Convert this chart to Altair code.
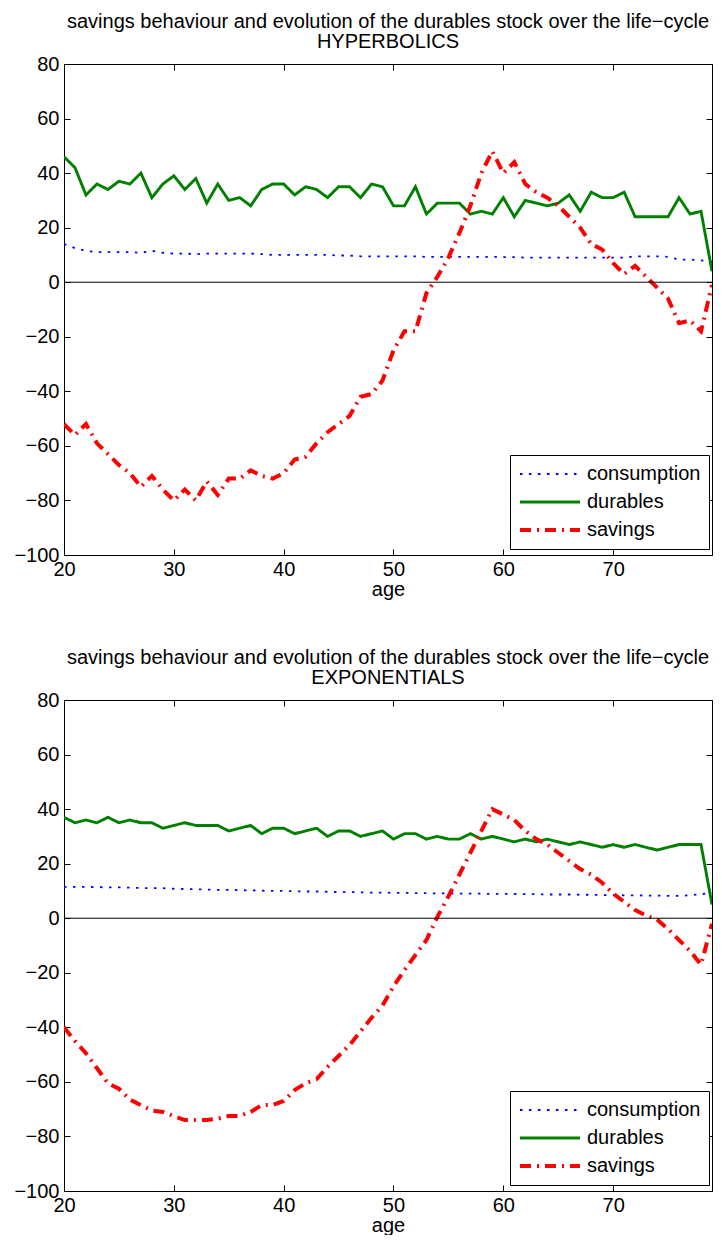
import altair as alt
import pandas as pd

ages = list(range(20, 80))
series_names = ["consumption", "durables", "savings"]

hyp_consumption = [14, 12.5, 11.5, 11, 11, 11, 11, 10.8, 11.5, 10.8,
                   10.5, 10.5, 10.3, 10.5, 10.5, 10.5, 10.5, 10.5, 10.3, 10,
                   10, 10, 10, 10, 10, 9.8, 9.8, 9.5, 9.5, 9.5,
                   9.5, 9.5, 9.5, 9.3, 9.3, 9.3, 9.3, 9.3, 9.3, 9.3,
                   9.2, 9.2, 9, 9, 9, 9, 9, 9, 9, 9,
                   9, 9, 9.5, 9.5, 9.5, 9.3, 8.3, 8.3, 8, 7.5]
hyp_durables = [46, 42, 32, 36, 34, 37, 36, 40, 31, 36,
                39, 34, 38, 29, 36, 30, 31, 28, 34, 36,
                36, 32, 35, 34, 31, 35, 35, 31, 36, 35,
                28, 28, 35, 25, 29, 29, 29, 25, 26, 25,
                31, 24, 30, 29, 28, 29, 32, 26, 33, 31,
                31, 33, 24, 24, 24, 24, 31, 25, 26, 4]
hyp_savings = [-52, -56, -52, -59, -63, -67, -70, -75, -71, -76,
               -80, -76, -80, -73, -78, -72, -72, -69, -71, -72,
               -70, -65, -64, -59, -55, -52, -49, -42, -41, -36,
               -25, -18, -18, -4, 2, 9, 18, 28, 40, 48,
               40, 44, 36, 33, 31, 28, 24, 20, 14, 12,
               7, 3, 6, 2, -2, -6, -15, -14, -18, -1]

exp_consumption = [11.5, 11.5, 11.5, 11.4, 11.3, 11.3, 11.2, 11.1, 11, 11,
                   10.8, 10.7, 10.6, 10.5, 10.4, 10.4, 10.3, 10.2, 10.1, 10,
                   10, 9.9, 9.8, 9.8, 9.7, 9.6, 9.6, 9.5, 9.4, 9.4,
                   9.3, 9.3, 9.2, 9.2, 9.1, 9.1, 9, 9, 9, 8.9,
                   8.9, 8.9, 8.8, 8.8, 8.7, 8.7, 8.7, 8.6, 8.6, 8.5,
                   8.5, 8.4, 8.4, 8.3, 8.3, 8.2, 8.2, 8.4, 8.8, 9.3]
exp_durables = [37, 35, 36, 35, 37, 35, 36, 35, 35, 33,
                34, 35, 34, 34, 34, 32, 33, 34, 31, 33,
                33, 31, 32, 33, 30, 32, 32, 30, 31, 32,
                29, 31, 31, 29, 30, 29, 29, 31, 29, 30,
                29, 28, 29, 28, 29, 28, 27, 28, 27, 26,
                27, 26, 27, 26, 25, 26, 27, 27, 27, 5]
exp_savings = [-40, -45, -49.5, -55, -60.5, -62.5, -66.5, -68.5, -70.5, -71,
               -72.5, -74, -74, -74, -73.5, -72.5, -72.5, -71, -68.5, -68.5,
               -67, -63, -60.5, -59, -54.5, -50.5, -46.5, -41.5, -36.5, -32,
               -25, -19, -13.5, -8, 0.5, 8, 16, 24, 32, 40,
               38, 36, 32, 29, 27, 24, 21, 18, 16, 13,
               9, 6, 3, 1, -0.5, -4, -8, -12, -17, -2]

x_ticks = [20, 30, 40, 50, 60, 70]
y_ticks = [-100, -80, -60, -40, -20, 0, 20, 40, 60, 80]
title_line = "savings behaviour and evolution of the durables stock over the life\u2212cycle"
panel_labels = ["HYPERBOLICS", "EXPONENTIALS"]

line_colors = ["#0000ff", "#008000", "#ff0000"]
line_dashes = [[2.5, 6.5], [1, 0], [11, 6, 2, 6]]
line_widths = [1.8, 4.0, 3.5]

FONT = "Liberation Sans"
W, H = 648, 491


def make_panel(cons, dur, sav, label):
    df = pd.DataFrame({
        "age": ages * 3,
        "value": cons + dur + sav,
        "series": [s for s in series_names for _ in ages],
    })
    zero_df = pd.DataFrame({"x0": [ages[0]], "x1": [ages[-1]], "y": [0]})
    xs = alt.Scale(domain=[ages[0], ages[-1]], nice=False, zero=False)
    ys = alt.Scale(domain=[y_ticks[0], y_ticks[-1]], nice=False)

    legend = alt.Legend(
        title=None, orient="none", legendX=446, legendY=391,
        symbolType="stroke", symbolSize=3600, clipHeight=22, rowPadding=6,
        padding=8, strokeColor="black", fillColor="white",
        labelFont=FONT, labelFontSize=20, labelColor="black", labelOffset=5,
        labelLimit=0,
    )

    lines = alt.Chart(df).mark_line(clip=True).encode(
        x=alt.X("age:Q", scale=xs,
                axis=alt.Axis(orient="bottom", values=x_ticks, ticks=False, domain=False,
                              grid=False, labelFlush=False, labelOverlap=False,
                              labelPadding=4, title="age", titlePadding=0)),
        y=alt.Y("value:Q", scale=ys,
                axis=alt.Axis(orient="left", values=y_ticks, ticks=False, domain=False,
                              grid=False, labelFlush=False, labelOverlap=False,
                              labelPadding=5, title=None)),
        color=alt.Color("series:N", scale=alt.Scale(domain=series_names, range=line_colors),
                        legend=legend),
        strokeDash=alt.StrokeDash("series:N", scale=alt.Scale(domain=series_names, range=line_dashes),
                                  legend=legend),
        strokeWidth=alt.StrokeWidth("series:N", scale=alt.Scale(domain=series_names, range=line_widths),
                                    legend=legend),
    )

    tick_axis = dict(labels=False, domain=False, grid=False, ticks=True, tickSize=6,
                     tickColor="black", tickWidth=1, title=None)

    zero = alt.Chart(zero_df).mark_rule(color="black", strokeWidth=1).encode(
        x=alt.X("x0:Q", scale=xs, axis=alt.Axis(orient="top", offset=-H, values=x_ticks, **tick_axis)),
        x2="x1:Q",
        y=alt.Y("y:Q", scale=ys, axis=alt.Axis(orient="right", offset=-W, values=y_ticks, **tick_axis)),
    )
    ghost = alt.Chart(zero_df).mark_rule(opacity=0).encode(
        x=alt.X("x0:Q", scale=xs, axis=alt.Axis(orient="bottom", offset=-H, values=x_ticks, **tick_axis)),
        x2="x1:Q",
        y=alt.Y("y:Q", scale=ys, axis=alt.Axis(orient="left", offset=-W, values=y_ticks, **tick_axis)),
    )

    return alt.layer(lines, zero, ghost).resolve_axis(
        x="independent", y="independent"
    ).properties(
        width=W, height=H,
        title=alt.TitleParams(text=[title_line, label], font=FONT, fontSize=20,
                              fontWeight="normal", lineHeight=20, offset=2,
                              frame="group", anchor="middle", color="black"),
    )


top = make_panel(hyp_consumption, hyp_durables, hyp_savings, panel_labels[0])
bottom = make_panel(exp_consumption, exp_durables, exp_savings, panel_labels[1])

chart = alt.vconcat(top, bottom, spacing=145, bounds="flush").resolve_scale(
    color="independent", strokeDash="independent", strokeWidth="independent",
    x="independent", y="independent",
).properties(
    padding={"left": 5, "top": 3, "right": 0, "bottom": -1},
    background="white",
).configure_view(
    stroke="black", strokeWidth=1
).configure_axis(
    labelFont=FONT, labelFontSize=20, labelColor="black",
    titleFont=FONT, titleFontSize=20, titleFontWeight="normal", titleColor="black",
)

chart.save("out.html", embed_options={"renderer": "svg", "actions": False})
